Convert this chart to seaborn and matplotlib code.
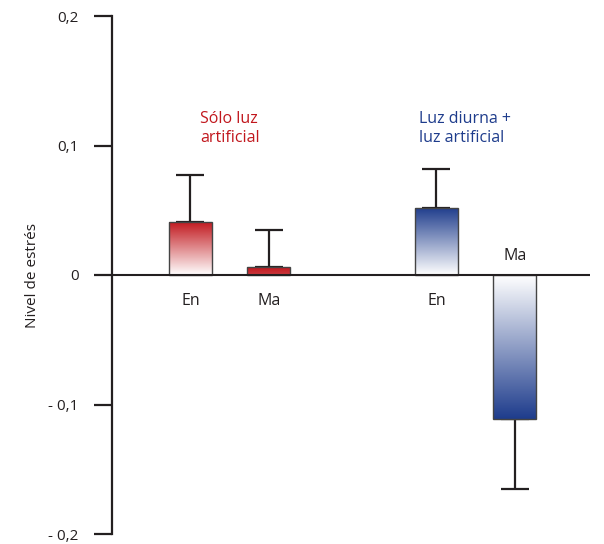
import numpy as np
import pandas as pd
import matplotlib
matplotlib.use("Agg")
import matplotlib.pyplot as plt
import seaborn as sns
from matplotlib.colors import to_rgb

# ---- data ----
grupos = ["Sólo luz\nartificial", "Luz diurna +\nluz artificial"]
momentos = ["En", "Ma"]
valores_solo = [0.041, 0.006]
valores_diurna = [0.052, -0.111]
errores_solo = [0.036, 0.0285]
errores_diurna = [0.0295, 0.0545]
yticks = [-0.2, -0.1, 0.0, 0.1, 0.2]
yticklabels = ["- 0,2", "- 0,1", "0", "0,1", "0,2"]
ylabel = "Nivel de estrés"

colores_grupo = ["#c1171d", "#1e3c8c"]
ink = "#231f20"

df = pd.DataFrame({
    "grupo": [grupos[0]] * 2 + [grupos[1]] * 2,
    "momento": momentos * 2,
    "valor": valores_solo + valores_diurna,
    "error": errores_solo + errores_diurna,
})

sns.set_style("white")
plt.rcParams["font.family"] = ["Open Sans", "DejaVu Sans"]

fig = plt.figure(figsize=(6.04, 5.44), dpi=100)
ax = fig.add_axes([112 / 604, 1 - 534 / 544, (590 - 112) / 604, (534 - 16) / 544])

sns.barplot(data=df, x="grupo", y="valor", hue="momento", order=grupos,
            hue_order=momentos, width=0.638, gap=0.455, legend=False,
            edgecolor="#444444", linewidth=1.0, ax=ax, errorbar=None,
            palette=["white", "white"])

bar_containers = list(ax.containers)

# gradients + error bars + labels
for hi, cont in enumerate(bar_containers):
    for gi, bar in enumerate(cont):
        row = df[(df.grupo == grupos[gi]) & (df.momento == momentos[hi])].iloc[0]
        v, e = row.valor, row.error
        x0 = bar.get_x(); w = bar.get_width(); xc = x0 + w / 2
        base = np.array(to_rgb(colores_grupo[gi]))
        n = 256
        t = np.linspace(0, 1, n)  # 0 at baseline, 1 at bar end
        white_amt = min(1.0, abs(v) / 0.04)
        mix = (1 - t) * white_amt
        cols = base[None, :] * (1 - mix[:, None]) + np.ones(3)[None, :] * mix[:, None]
        img = cols[:, None, :]
        if v >= 0:
            extent = (x0, x0 + w, 0, v)
            img = img[::-1]
        else:
            extent = (x0, x0 + w, v, 0)
        im = ax.imshow(img, extent=extent, aspect="auto", origin="upper",
                       zorder=bar.get_zorder() - 0.05, interpolation="bilinear")
        im.set_clip_path(bar)
        bar.set_facecolor("none")
        bar.set_zorder(bar.get_zorder() + 0.1)
        if v >= 0:
            yerr = [[0], [e]]
        else:
            yerr = [[e], [0]]
        ax.errorbar([xc], [v], yerr=yerr, fmt="none", ecolor=ink, elinewidth=1.6,
                    capsize=10, capthick=1.6, zorder=0.5)
        ly = -0.020 if v >= 0 else 0.0147
        ax.text(xc, ly, momentos[hi], ha="center", va="center", fontsize=11.5, color=ink)

# group titles
ax.text(-0.12, 0.113, grupos[0], color=colores_grupo[0], fontsize=11.5,
        ha="left", va="center", linespacing=1.25)
ax.text(0.77, 0.113, grupos[1], color=colores_grupo[1], fontsize=11.5,
        ha="left", va="center", linespacing=1.25)

ax.axhline(0, color=ink, lw=1.5, zorder=3)
ax.set_xlim(-0.478, 1.465)
ax.set_ylim(-0.2, 0.2)
ax.set_yticks(yticks)
ax.set_yticklabels(yticklabels, fontsize=11, color=ink)
ax.tick_params(axis="y", direction="out", length=13, width=1.6, color=ink, pad=11, left=True)
ax.set_xticks([])
ax.set_xlabel("")
ax.set_ylabel(ylabel, fontsize=11, color=ink, labelpad=6)
for s in ["top", "right", "bottom"]:
    ax.spines[s].set_visible(False)
ax.spines["left"].set_color(ink)
ax.spines["left"].set_linewidth(1.6)
ax.patch.set_alpha(0)

fig.savefig("out.png", dpi=100)
